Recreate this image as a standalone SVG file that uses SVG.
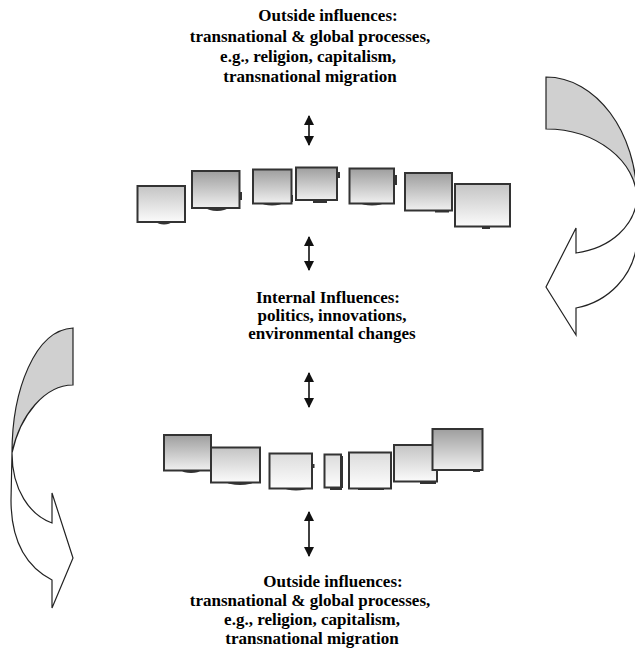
<svg xmlns="http://www.w3.org/2000/svg" width="635" height="648" viewBox="0 0 635 648">
<defs>
<style>
.t{font-family:"Liberation Serif","Times New Roman",serif;font-weight:bold;font-size:17px;fill:#000;text-anchor:middle}
.bx{stroke:#333;stroke-width:2}
.ft{fill:#333}
.con{stroke:#111;stroke-width:1.6;fill:none}
.cg{fill:#d0d0d0;stroke:#222;stroke-width:1.2}
.cw{fill:#fff;stroke:#222;stroke-width:1.2}
</style>
<linearGradient id="gA" x1="0" y1="0" x2="0" y2="1"><stop offset="0" stop-color="#9e9e9e"/><stop offset="1" stop-color="#f0f0f0"/></linearGradient>
<linearGradient id="gB" x1="0" y1="0" x2="0" y2="1"><stop offset="0" stop-color="#c4c4c4"/><stop offset="1" stop-color="#fbfbfb"/></linearGradient>
<linearGradient id="gC" x1="0" y1="0" x2="0" y2="1"><stop offset="0" stop-color="#dcdcdc"/><stop offset="1" stop-color="#fdfdfd"/></linearGradient>
<marker id="ah" viewBox="0 0 10 10" refX="9" refY="5" markerWidth="10" markerHeight="10" markerUnits="userSpaceOnUse" orient="auto-start-reverse"><path d="M0,0 L10,5 L0,10 Z" fill="#111"/></marker>
</defs>
<rect width="635" height="648" fill="#fff"/>

<g id="curved-arrow-right">
<path class="cw" d="M637,200 C634,225 612,248 576,253 L576,228 L546,287 L576,335 L576,308 C608,302 634,276 637,242 Z"/>
<path class="cg" d="M546,77 C596,77 637,132 637,200 C637,161 596,129 546,129 Z"/>
</g>
<g id="curved-arrow-left">
<path class="cw" d="M12,453 C12,490 30,515 52,523 L52,493 L73,558 L52,608 L52,580 C25,566 11,540 11,500 Z"/>
<path class="cg" d="M73,328 C35,330 12,390 12,453 C20,415 45,385 73,385 Z"/>
</g>

<g id="top-text">
<text class="t" x="328" y="21">Outside influences:</text>
<text class="t" x="310" y="42">transnational &amp; global processes,</text>
<text class="t" x="308" y="62">e.g., religion, capitalism,</text>
<text class="t" x="310" y="82">transnational migration</text>
</g>

<g id="top-row">
<g id="t1"><ellipse class="ft" cx="164" cy="222" rx="7" ry="2.5"/><rect class="bx" x="137.5" y="186" width="47.5" height="36" fill="url(#gB)"/></g>
<g id="t2"><ellipse class="ft" cx="217" cy="208" rx="10" ry="3"/><rect class="ft" x="239" y="192" width="3" height="8"/><rect class="bx" x="192" y="171" width="47.5" height="37" fill="url(#gA)"/></g>
<g id="t3"><ellipse class="ft" cx="272" cy="203" rx="10" ry="2.5"/><rect class="ft" x="291" y="195" width="2" height="7"/><rect class="bx" x="253" y="169.5" width="38.5" height="34" fill="url(#gA)"/></g>
<g id="t4"><rect class="ft" x="313" y="199" width="14" height="4"/><rect class="ft" x="337" y="172" width="3" height="6"/><rect class="bx" x="296" y="167.5" width="41" height="32.5" fill="url(#gA)"/></g>
<g id="t5"><ellipse class="ft" cx="372" cy="203" rx="11" ry="2.5"/><rect class="ft" x="394" y="175" width="3" height="10"/><rect class="bx" x="349.5" y="168.5" width="44.5" height="35" fill="url(#gA)"/></g>
<g id="t6"><rect class="ft" x="435" y="209" width="14" height="3.5"/><rect class="bx" x="405" y="173" width="47" height="37.5" fill="url(#gA)"/></g>
<g id="t7"><rect class="ft" x="482" y="226" width="8" height="3"/><rect class="bx" x="455" y="184" width="55" height="42.5" fill="url(#gB)"/></g>
</g>

<g id="mid-text">
<text class="t" x="328" y="303">Internal Influences:</text>
<text class="t" x="332" y="321">politics, innovations,</text>
<text class="t" x="332" y="339">environmental changes</text>
</g>

<g id="bottom-row">
<g id="b1"><ellipse class="ft" cx="191" cy="470.5" rx="9" ry="2.5"/><rect class="bx" x="164" y="435" width="47" height="35.5" fill="url(#gA)"/></g>
<g id="b2"><ellipse class="ft" cx="240" cy="482" rx="13" ry="3"/><rect class="bx" x="211" y="447.5" width="49" height="35" fill="url(#gB)"/></g>
<g id="b3"><ellipse class="ft" cx="296" cy="488" rx="11" ry="2.5"/><rect class="ft" x="312" y="464" width="2.5" height="4"/><rect class="bx" x="269.5" y="453.5" width="42.5" height="35" fill="url(#gC)"/></g>
<g id="b4"><rect class="ft" x="330" y="487" width="12" height="3"/><rect class="ft" x="341" y="456" width="2" height="32"/><rect class="bx" x="324.5" y="454.5" width="16.5" height="33" fill="url(#gC)"/></g>
<g id="b5"><rect class="ft" x="358" y="487" width="26" height="3"/><rect class="bx" x="349" y="452.5" width="42" height="36" fill="url(#gC)"/></g>
<g id="b6"><rect class="ft" x="420" y="481" width="16" height="3"/><rect class="bx" x="394" y="445" width="43" height="36.5" fill="url(#gB)"/></g>
<g id="b7"><rect class="ft" x="473" y="469" width="7" height="3"/><rect class="bx" x="432.5" y="429" width="50" height="41" fill="url(#gA)"/></g>
</g>

<g id="bottom-text">
<text class="t" x="333" y="587">Outside influences:</text>
<text class="t" x="310" y="606">transnational &amp; global processes,</text>
<text class="t" x="312" y="625">e.g., religion, capitalism,</text>
<text class="t" x="312" y="644">transnational migration</text>
</g>

<g id="connectors">
<line class="con" x1="309" y1="116" x2="309" y2="145" marker-start="url(#ah)" marker-end="url(#ah)"/>
<line class="con" x1="309" y1="237" x2="309" y2="270" marker-start="url(#ah)" marker-end="url(#ah)"/>
<line class="con" x1="309" y1="373" x2="309" y2="407" marker-start="url(#ah)" marker-end="url(#ah)"/>
<line class="con" x1="309" y1="512" x2="309" y2="556" marker-start="url(#ah)" marker-end="url(#ah)"/>
</g>
</svg>
